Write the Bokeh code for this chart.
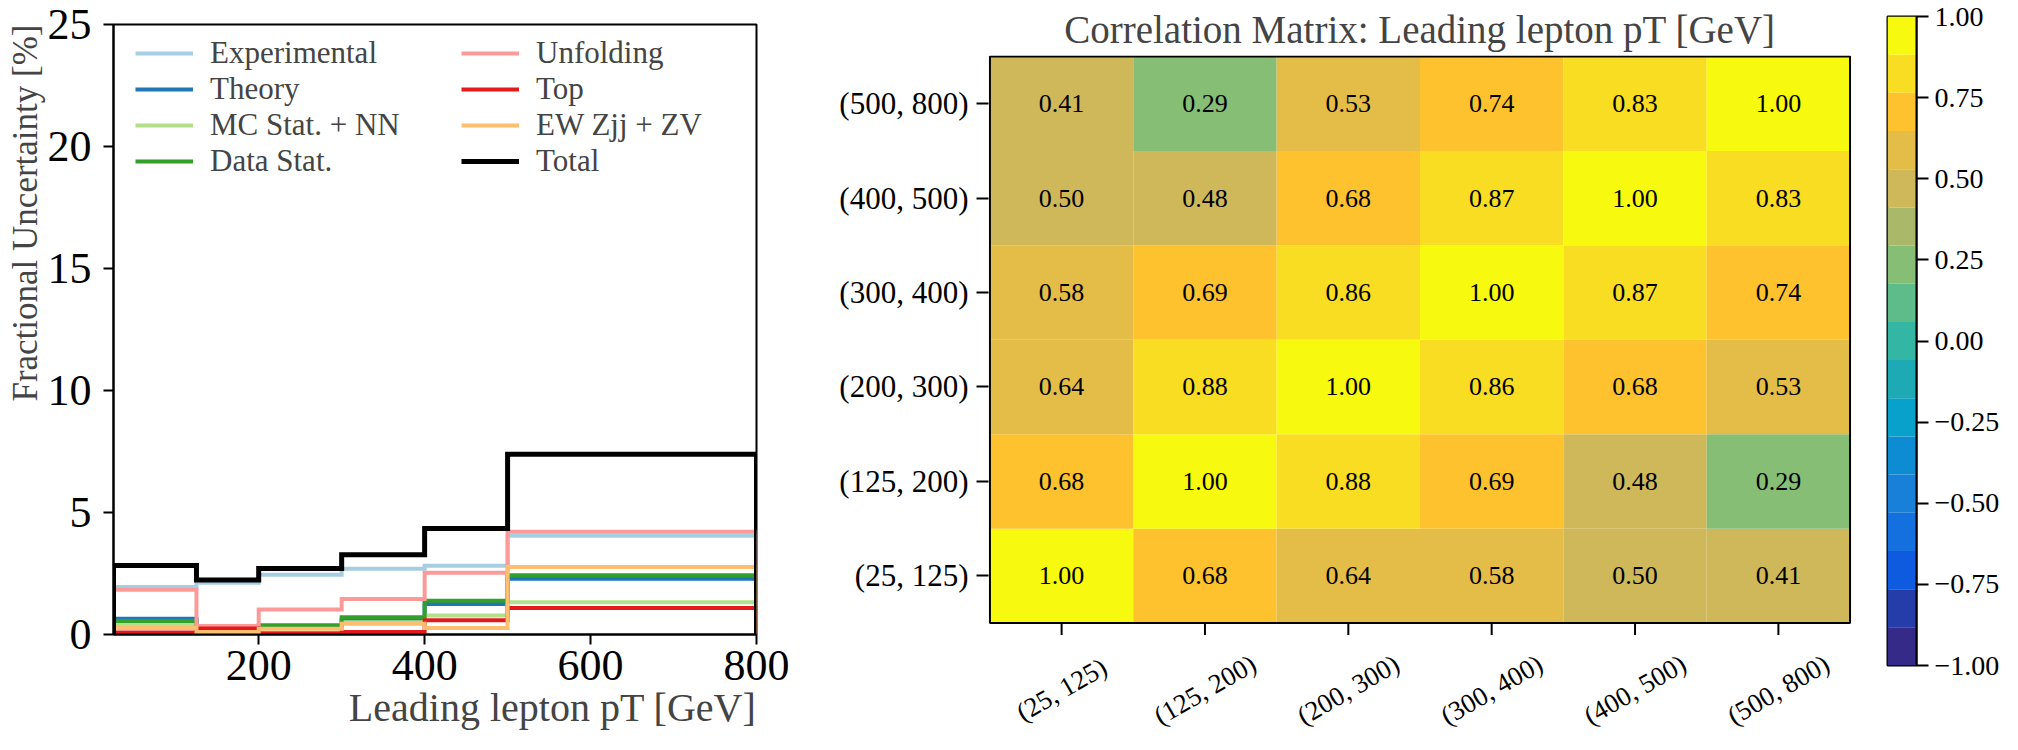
import math
from bokeh.plotting import figure
from bokeh.models import (Range1d, FixedTicker, Legend, LegendItem, Title,
                          ColumnDataSource, LinearColorMapper)
from bokeh.layouts import row
from bokeh.embed import file_html
from bokeh.resources import INLINE
from bokeh.core.properties import value
from bokeh.transform import transform

FONT = "Liberation Serif"

# ---------------- data: fractional uncertainties (%) ----------------
bin_edges = [25, 125, 200, 300, 400, 500, 800]
experimental = [1.95, 2.12, 2.45, 2.69, 2.82, 4.05]
theory = [0.65, 0.20, 0.30, 0.60, 1.25, 2.28]
mc_stat_nn = [0.40, 0.15, 0.30, 0.50, 0.78, 1.32]
data_stat = [0.55, 0.25, 0.38, 0.71, 1.38, 2.43]
unfolding = [1.83, 0.35, 1.02, 1.45, 2.53, 4.21]
top = [0.08, 0.25, 0.05, 0.10, 0.58, 1.09]
ew_zjj_zv = [0.27, 0.10, 0.24, 0.44, 0.27, 2.77]
total = [2.83, 2.23, 2.70, 3.27, 4.34, 7.39]

series_names = ["Experimental", "Theory", "MC Stat. + NN", "Data Stat.",
                "Unfolding", "Top", "EW Zjj + ZV", "Total"]
series_values = [experimental, theory, mc_stat_nn, data_stat,
                 unfolding, top, ew_zjj_zv, total]
series_colors = ["#a6cee3", "#1f78b4", "#b2df8a", "#33a02c",
                 "#fb9a99", "#e31a1c", "#fdbf6f", "#000000"]

x_ticks = [200, 400, 600, 800]
y_ticks = [0, 5, 10, 15, 20, 25]

# ---------------- data: correlation matrix ----------------
bin_labels = ["(25, 125)", "(125, 200)", "(200, 300)", "(300, 400)", "(400, 500)", "(500, 800)"]
# row i = bin i on the y axis (bottom to top), column j = bin j on the x axis
corr_rows = [
    [1.00, 0.68, 0.64, 0.58, 0.50, 0.412],
    [0.68, 1.00, 0.88, 0.69, 0.48, 0.29],
    [0.64, 0.88, 1.00, 0.86, 0.68, 0.53],
    [0.58, 0.69, 0.86, 1.00, 0.87, 0.74],
    [0.50, 0.48, 0.68, 0.87, 1.00, 0.83],
    [0.412, 0.29, 0.53, 0.74, 0.83, 1.00],
]
cbar_ticks = [-1.0, -0.75, -0.5, -0.25, 0.0, 0.25, 0.5, 0.75, 1.0]
cbar_tick_labels = ["\u22121.00", "\u22120.75", "\u22120.50", "\u22120.25", "0.00",
                    "0.25", "0.50", "0.75", "1.00"]
# discrete (17 level) parula-like palette, bottom (-1) to top (+1)
palette = ["#352a87", "#243da8", "#0e5be0", "#1470de", "#1880d9", "#0d8cd4",
           "#07a1cb", "#1daab4", "#33b6a3", "#5ebb8a", "#87be76", "#a9b869",
           "#cfb85a", "#e4bd48", "#fdc22e", "#f9dd22", "#f7f90f"]
c_low, c_high = -1.0, 1.0


def step_xy(edges, vals):
    xs, ys = [edges[0]], [0]
    for i, v in enumerate(vals):
        xs += [edges[i], edges[i + 1]]
        ys += [v, v]
    xs.append(edges[-1])
    ys.append(0)
    return xs, ys


def style_axis(ax, size):
    ax.major_label_text_font = FONT
    ax.major_label_text_font_size = size
    ax.major_label_text_color = "black"
    ax.axis_line_color = "black"
    ax.axis_line_width = 2
    ax.major_tick_line_color = "black"
    ax.major_tick_line_width = 2
    ax.major_tick_in = 0
    ax.minor_tick_line_color = None


# ======================= left: uncertainty steps =======================
p1 = figure(width=796, height=734, x_range=Range1d(25, 800), y_range=Range1d(0, 25),
            output_backend="svg", toolbar_location=None, frame_align=False,
            min_border_left=113, min_border_right=40, min_border_top=24, min_border_bottom=100)
p1.xgrid.visible = False
p1.ygrid.visible = False
p1.outline_line_color = "black"
p1.outline_line_width = 2
p1.outline_line_alpha = 1

p1.xaxis.ticker = FixedTicker(ticks=x_ticks)
p1.yaxis.ticker = FixedTicker(ticks=y_ticks)
style_axis(p1.xaxis[0], "44px")
style_axis(p1.yaxis[0], "44px")
p1.xaxis.major_tick_out = 10
p1.yaxis.major_tick_out = 10
p1.xaxis.major_label_standoff = 6
p1.yaxis.major_label_standoff = 12

items = []
for name, vals, color in zip(series_names, series_values, series_colors):
    xs, ys = step_xy(bin_edges, vals)
    r = p1.line(xs, ys, line_color=color, line_width=5 if name == "Total" else 4,
                line_join="miter")
    items.append(LegendItem(label=name, renderers=[r]))

for k, loc in enumerate([(22, 455), (348, 455)]):
    leg = Legend(items=items[4 * k:4 * k + 4], location=loc, orientation="vertical",
                 padding=0, spacing=0, margin=0, glyph_width=58, glyph_height=20,
                 label_height=20, label_standoff=17,
                 label_text_font=FONT, label_text_font_size="31px",
                 border_line_alpha=0, background_fill_alpha=0)
    p1.add_layout(leg)

p1.add_layout(Title(text="Leading lepton pT [GeV]", align="right", text_font=FONT,
                    text_font_size="40px", text_font_style="normal", standoff=0), "below")
p1.add_layout(Title(text="Fractional Uncertainty [%]", align="right", text_font=FONT,
                    text_font_size="35px", text_font_style="normal", standoff=0), "left")

# ======================= middle: correlation matrix =======================
n = len(bin_labels)
HEAT_H = 570.0          # pixel height of the matrix cells area
FRAME_H = 734 - 51      # frame height (matrix + room for rotated labels)
unit_px = HEAT_H / n
pad = 0.01
mapper = LinearColorMapper(palette=palette, low=c_low, high=c_high)
xs, ys, vs, ts = [], [], [], []
for i in range(n):
    for j in range(n):
        xs.append(j + 0.5)
        ys.append(i + 0.5)
        vs.append(corr_rows[i][j])
        ts.append("%.2f" % corr_rows[i][j])
src = ColumnDataSource(dict(x=xs, y=ys, v=vs, t=ts))

p2 = figure(width=1069, height=734, x_range=Range1d(-pad, n + pad),
            y_range=Range1d(n + pad - FRAME_H / unit_px, n + pad),
            output_backend="svg", toolbar_location=None, frame_align=False,
            min_border_left=192, min_border_right=14, min_border_top=51, min_border_bottom=0)
p2.xgrid.visible = False
p2.ygrid.visible = False
p2.outline_line_color = None
p2.xaxis.visible = False
p2.rect(x="x", y="y", width=1, height=1, source=src,
        fill_color=transform("v", mapper), line_color=None)
p2.text(x="x", y="y", text="t", source=src, text_font=value(FONT),
        text_font_size="26px", text_align="center", text_baseline="middle",
        text_color="black")
p2.quad(left=0, right=n, bottom=0, top=n, fill_color=None, line_color="black", line_width=2)

centers = [k + 0.5 for k in range(n)]
p2.yaxis.ticker = FixedTicker(ticks=centers)
p2.yaxis.major_label_overrides = {c: lab for c, lab in zip(centers, bin_labels)}
style_axis(p2.yaxis[0], "31px")
p2.yaxis.axis_line_color = None
p2.yaxis.major_tick_out = 12
p2.yaxis.major_label_standoff = 8

# bottom ticks and rotated category labels
p2.segment(x0=centers, y0=[0] * n, x1=centers, y1=[-12 / unit_px] * n,
           line_color="black", line_width=2)
p2.text(x=centers, y=[-67 / unit_px] * n, text=bin_labels, angle=math.pi / 6,
        text_align="center", text_baseline="middle", text_font=value(FONT),
        text_font_size="27px", text_color="black")

p2.title.text = "Correlation Matrix: Leading lepton pT [GeV]"
p2.title.align = "center"
p2.title.text_font = FONT
p2.title.text_font_size = "39px"
p2.title.text_font_style = "normal"

# ======================= right: colour bar =======================
nb = len(palette)
step = (c_high - c_low) / nb
bottoms = [c_low + k * step for k in range(nb)]
tops = [c_low + (k + 1) * step for k in range(nb)]
p3 = figure(width=137, height=734, x_range=Range1d(0, 1), y_range=Range1d(c_low, c_high),
            output_backend="svg", toolbar_location=None, y_axis_location="right",
            frame_align=False,
            min_border_left=22, min_border_right=84, min_border_top=16, min_border_bottom=69)
p3.xgrid.visible = False
p3.ygrid.visible = False
p3.xaxis.visible = False
p3.outline_line_color = "black"
p3.outline_line_width = 2
p3.quad(left=0, right=1, bottom=bottoms, top=tops, fill_color=palette, line_color=None)
p3.yaxis.ticker = FixedTicker(ticks=cbar_ticks)
p3.yaxis.major_label_overrides = {t: lab for t, lab in zip(cbar_ticks, cbar_tick_labels)}
style_axis(p3.yaxis[0], "28px")
p3.yaxis.major_tick_out = 12
p3.yaxis.major_label_standoff = 6

layout = row(p1, p2, p3)
open("out.html", "w").write(file_html(layout, INLINE))
